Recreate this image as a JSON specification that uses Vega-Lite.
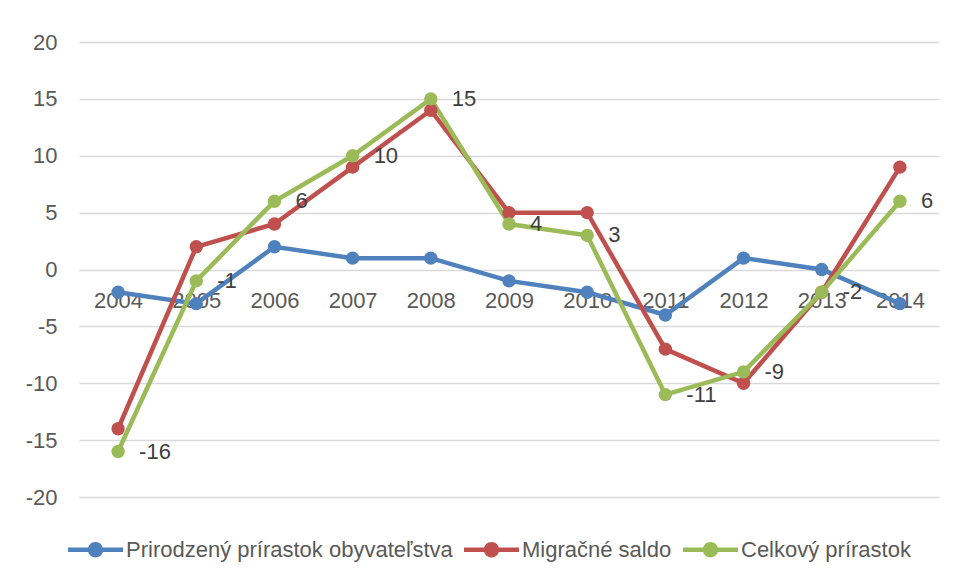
{
  "$schema": "https://vega.github.io/schema/vega-lite/v6.json",
  "width": 860,
  "height": 455,
  "autosize": {"type": "none"},
  "padding": {"left": 79, "top": 42, "right": 14, "bottom": 84},
  "background": "white",
  "config": {"view": {"stroke": null}, "font": "Liberation Sans"},
  "data": {"values": [
    {"year": 2004, "series": "Prirodzený prírastok obyvateľstva", "value": -2},
    {"year": 2005, "series": "Prirodzený prírastok obyvateľstva", "value": -3},
    {"year": 2006, "series": "Prirodzený prírastok obyvateľstva", "value": 2},
    {"year": 2007, "series": "Prirodzený prírastok obyvateľstva", "value": 1},
    {"year": 2008, "series": "Prirodzený prírastok obyvateľstva", "value": 1},
    {"year": 2009, "series": "Prirodzený prírastok obyvateľstva", "value": -1},
    {"year": 2010, "series": "Prirodzený prírastok obyvateľstva", "value": -2},
    {"year": 2011, "series": "Prirodzený prírastok obyvateľstva", "value": -4},
    {"year": 2012, "series": "Prirodzený prírastok obyvateľstva", "value": 1},
    {"year": 2013, "series": "Prirodzený prírastok obyvateľstva", "value": 0},
    {"year": 2014, "series": "Prirodzený prírastok obyvateľstva", "value": -3},
    {"year": 2004, "series": "Migračné saldo", "value": -14},
    {"year": 2005, "series": "Migračné saldo", "value": 2},
    {"year": 2006, "series": "Migračné saldo", "value": 4},
    {"year": 2007, "series": "Migračné saldo", "value": 9},
    {"year": 2008, "series": "Migračné saldo", "value": 14},
    {"year": 2009, "series": "Migračné saldo", "value": 5},
    {"year": 2010, "series": "Migračné saldo", "value": 5},
    {"year": 2011, "series": "Migračné saldo", "value": -7},
    {"year": 2012, "series": "Migračné saldo", "value": -10},
    {"year": 2013, "series": "Migračné saldo", "value": -2},
    {"year": 2014, "series": "Migračné saldo", "value": 9},
    {"year": 2004, "series": "Celkový prírastok", "value": -16},
    {"year": 2005, "series": "Celkový prírastok", "value": -1},
    {"year": 2006, "series": "Celkový prírastok", "value": 6},
    {"year": 2007, "series": "Celkový prírastok", "value": 10},
    {"year": 2008, "series": "Celkový prírastok", "value": 15},
    {"year": 2009, "series": "Celkový prírastok", "value": 4},
    {"year": 2010, "series": "Celkový prírastok", "value": 3},
    {"year": 2011, "series": "Celkový prírastok", "value": -11},
    {"year": 2012, "series": "Celkový prírastok", "value": -9},
    {"year": 2013, "series": "Celkový prírastok", "value": -2},
    {"year": 2014, "series": "Celkový prírastok", "value": 6}
  ]},
  "encoding": {
    "x": {"field": "year", "type": "ordinal", "scale": {"padding": 0.5},
      "axis": {"title": null, "orient": "bottom", "offset": -227.5, "domain": false, "ticks": false, "grid": false,
        "labelAngle": 0, "labelFontSize": 22, "labelColor": "#595959", "labelPadding": 21}},
    "y": {"field": "value", "type": "quantitative", "scale": {"domain": [-20, 20], "nice": false},
      "axis": {"title": null, "values": [-20, -15, -10, -5, 0, 5, 10, 15, 20], "domain": false, "ticks": false,
        "labelExpr": "'' + datum.value",
        "gridColor": "#D9D9D9", "gridWidth": 1.3, "labelFontSize": 22, "labelColor": "#595959", "labelPadding": 22}}
  },
  "layer": [
    {
      "mark": {"type": "line", "strokeWidth": 4.5, "point": {"filled": true, "size": 180, "opacity": 1}},
      "encoding": {
        "color": {"field": "series", "type": "nominal",
          "scale": {"domain": ["Prirodzený prírastok obyvateľstva", "Migračné saldo", "Celkový prírastok"],
            "range": ["#4F81BD", "#C0504D", "#9BBB59"]},
          "legend": {"title": null, "orient": "none", "legendX": -11, "legendY": 480, "direction": "horizontal",
            "symbolType": "M-1,-0.08L-0.27,-0.08L-0.27,0.08L-1,0.08Z M0.27,-0.08L1,-0.08L1,0.08L0.27,0.08Z M-0.28,0A0.28,0.28 0 1,1 0.28,0A0.28,0.28 0 1,1 -0.28,0Z",
            "symbolSize": 3025, "symbolStrokeWidth": 0, "labelFontSize": 22, "labelColor": "#595959",
            "labelOffset": 3, "columnPadding": 11, "labelLimit": 600,
            "encode": {"symbols": {"update": {"fill": {"scale": "color", "field": "value"}, "opacity": {"value": 1}, "strokeWidth": {"value": 0}}}}}
        }
      }
    },
    {
      "transform": [{"filter": "datum.series === 'Celkový prírastok'"}],
      "mark": {"type": "text", "align": "left", "baseline": "middle", "dx": 21, "fontSize": 22, "color": "#404040"},
      "encoding": {"text": {"field": "value", "type": "nominal"}}
    }
  ]
}
